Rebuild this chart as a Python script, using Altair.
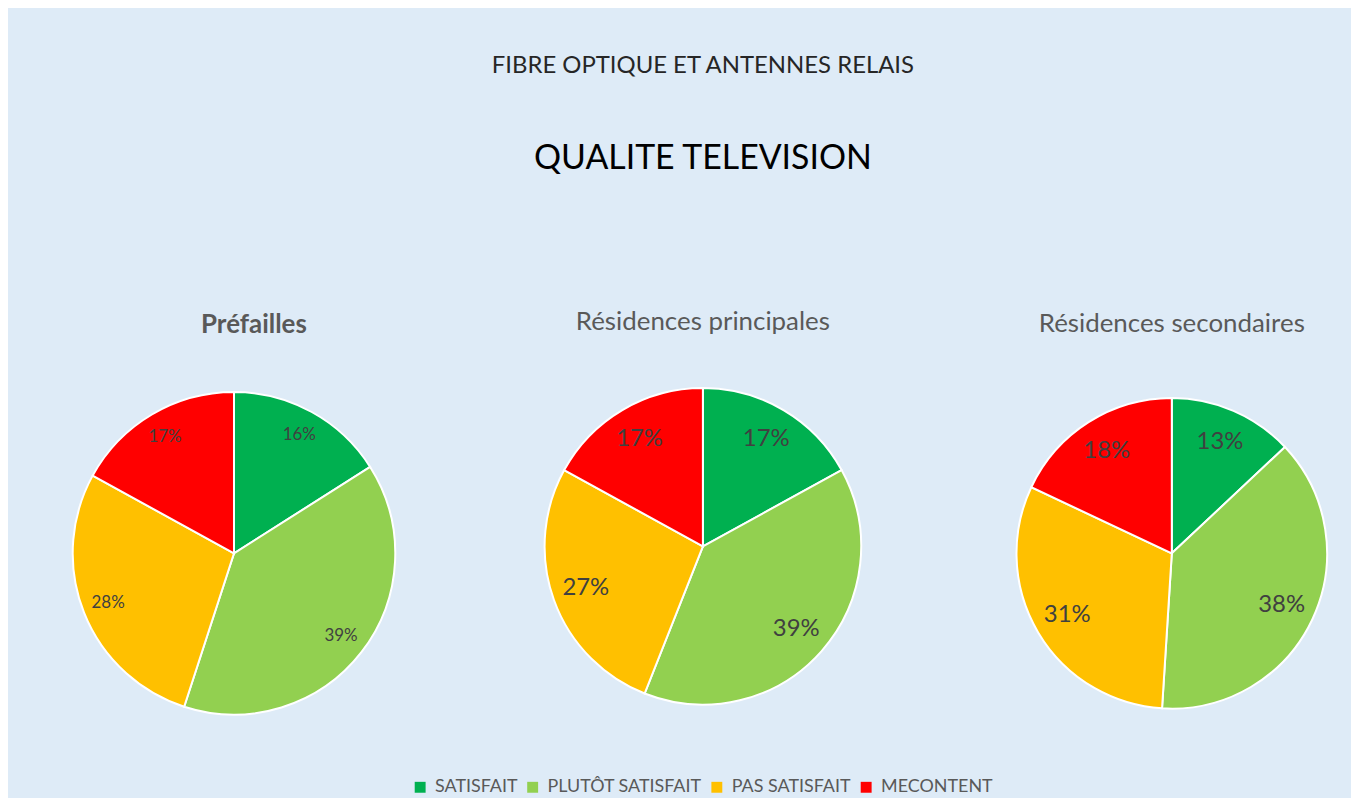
import altair as alt
import pandas as pd

categories = ["SATISFAIT", "PLUTÔT SATISFAIT", "PAS SATISFAIT", "MECONTENT"]
colors = ["#00B050", "#92D050", "#FFC000", "#FF0000"]

prefailles = [16, 39, 28, 17]
principales = [17, 39, 27, 17]
secondaires = [13, 38, 31, 18]

panel_titles = ["Préfailles", "Résidences principales", "Résidences secondaires"]

FONT = "Lato"
BG = "#DEEBF7"


def make_df(values):
    return pd.DataFrame({
        "cat": categories,
        "idx": list(range(len(categories))),
        "value": values,
        "label": [f"{v}%" for v in values],
    })


def pie(values, title, outer, label_r, label_size, bold, dx, h, title_off):
    base = alt.Chart(make_df(values)).encode(
        theta=alt.Theta("value:Q", stack=True),
        order=alt.Order("idx:Q", sort="ascending"),
    )
    arcs = base.mark_arc(outerRadius=outer, stroke="white", strokeWidth=2).encode(
        color=alt.Color(
            "cat:N",
            scale=alt.Scale(domain=categories, range=colors),
            sort=categories,
            legend=alt.Legend(title=None, orient="none", legendX=348, legendY=396,
                              direction="horizontal"),
        )
    )
    labels = base.mark_text(radius=label_r, fontSize=label_size, font=FONT,
                            color="#404040").encode(text="label:N")
    return (arcs + labels).properties(
        width=340, height=h,
        title=alt.TitleParams(
            title, fontSize=26, font=FONT, color="#595959",
            fontWeight="bold" if bold else "normal", offset=title_off, dx=dx,
        ),
    )


p1 = pie(prefailles, panel_titles[0], 162, 136, 17, True, 20, 340, 46)
p2 = pie(principales, panel_titles[1], 159, 125, 24, False, 0, 326, 49)
p3 = pie(secondaires, panel_titles[2], 156, 122, 24, False, 0, 340, 47)

chart = alt.hconcat(p1, p2, p3, spacing=131).properties(
    title=alt.TitleParams(
        "FIBRE OPTIQUE ET ANTENNES RELAIS",
        subtitle="QUALITE TELEVISION",
        fontSize=24, font=FONT, fontWeight="normal", color="#262626",
        subtitleFontSize=34, subtitleFont=FONT, subtitleColor="#000000",
        subtitlePadding=64, anchor="middle", offset=134,
    ),
    padding={"left": 57, "right": 10, "top": 45, "bottom": 0},
    background=BG,
).configure_view(stroke=None).configure_legend(
    symbolType="square",
    symbolSize=120, labelFontSize=18, labelFont=FONT, labelColor="#595959",
    columnPadding=6, labelOffset=6, labelLimit=400, symbolStrokeWidth=0,
)

chart.save("out.html", embed_options={"renderer": "svg", "actions": False})
